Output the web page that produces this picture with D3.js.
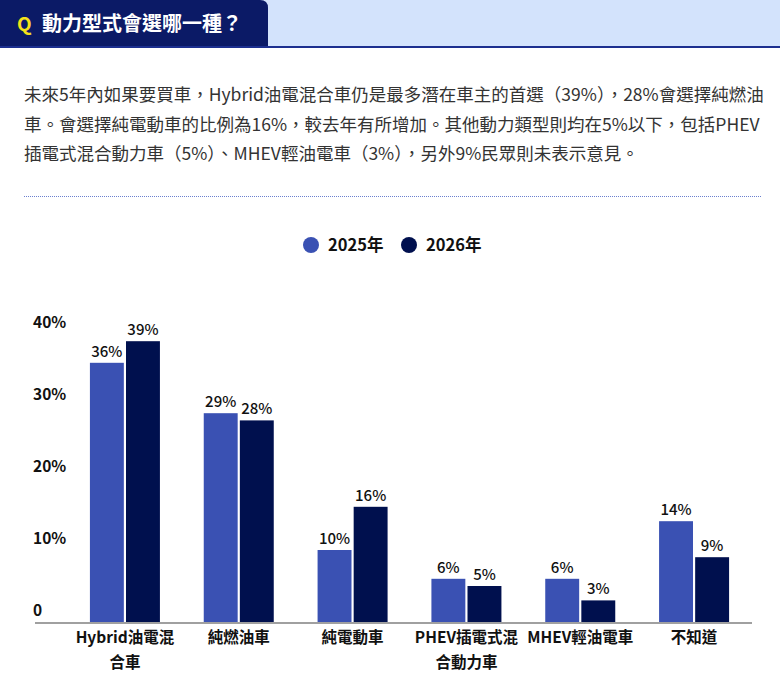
<!DOCTYPE html>
<html>
<head>
<meta charset="utf-8">
<script src="https://cdn.jsdelivr.net/npm/d3@7"></script>
<style>
  body { margin: 0; background: #fff; }
  svg { display: block; font-family: 'Noto Sans CJK TC', 'Noto Sans', sans-serif; }
</style>
</head>
<body>
<div id="chart"></div>
<script>
const title = '動力型式會選哪一種？';
const paragraphLines = [
  '未來5年內如果要買車，Hybrid油電混合車仍是最多潛在車主的首選（39%），28%會選擇純燃油',
  '車。會選擇純電動車的比例為16%，較去年有所增加。其他動力類型則均在5%以下，包括PHEV',
  '插電式混合動力車（5%）、MHEV輕油電車（3%），另外9%民眾則未表示意見。',
];
const categories = [
  ['Hybrid油電混', '合車'],
  ['純燃油車'],
  ['純電動車'],
  ['PHEV插電式混', '合動力車'],
  ['MHEV輕油電車'],
  ['不知道'],
];
const seriesNames = ['2025年', '2026年'];
const values2025 = [36, 29, 10, 6, 6, 14];
const values2026 = [39, 28, 16, 5, 3, 9];
const yTicks = [0, 10, 20, 30, 40];

const WIDTH = 780;
const HEIGHT = 699;
const colors = ['#3a51b3', '#00104e'];

const svg = d3.create('svg').attr('width', WIDTH).attr('height', HEIGHT);

// header
svg.append('rect').attr('width', WIDTH).attr('height', 47).attr('fill', '#d3e3fc');
svg
  .append('path')
  .attr('d', 'M0,0 H260 Q268,0 268,8 V47 H0 Z')
  .attr('fill', '#0b1a66');
svg
  .append('rect')
  .attr('y', 46)
  .attr('width', WIDTH)
  .attr('height', 2)
  .attr('fill', '#1c2f8f');
svg
  .append('text')
  .attr('x', 17)
  .attr('y', 31)
  .attr('fill', '#f5e21a')
  .attr('font-size', 19)
  .attr('font-weight', 700)
  .text('Q');
svg
  .append('text')
  .attr('x', 42)
  .attr('y', 31)
  .attr('fill', '#fff')
  .attr('font-size', 20)
  .attr('font-weight', 700)
  .text(title);

// paragraph
svg
  .append('g')
  .selectAll('text')
  .data(paragraphLines)
  .join('text')
  .attr('x', 24)
  .attr('y', (_, i) => 101 + i * 29.5)
  .attr('fill', '#333')
  .attr('font-size', 17.5)
  .text((d) => d);

svg
  .append('line')
  .attr('x1', 24)
  .attr('x2', 762)
  .attr('y1', 196.5)
  .attr('y2', 196.5)
  .attr('stroke', '#6b80cf')
  .attr('stroke-dasharray', '1,1');

// legend
const legend = svg
  .append('g')
  .selectAll('g')
  .data(seriesNames)
  .join('g')
  .attr('transform', (_, i) => `translate(${311 + i * 98}, 245)`);
legend.append('circle').attr('r', 8).attr('fill', (_, i) => colors[i]);
legend
  .append('text')
  .attr('x', 17)
  .attr('y', 6)
  .attr('font-size', 16.5)
  .attr('font-weight', 700)
  .attr('fill', '#111')
  .text((d) => d);

// scales
const x0 = d3
  .scaleBand()
  .domain(d3.range(categories.length))
  .range([68, 751])
  .paddingInner(0.385)
  .paddingOuter(0.1925);
const x1 = d3
  .scaleBand()
  .domain(seriesNames)
  .range([0, x0.bandwidth()])
  .paddingInner(0.06);
const y = d3.scaleLinear().domain([0, 40]).range([622, 334]);

// y axis labels (sitting above tick position, no grid)
const yAxis = d3
  .axisLeft(y)
  .tickValues(yTicks)
  .tickFormat((t) => (t === 0 ? '0' : `${t}%`))
  .tickSize(0);
const yG = svg
  .append('g')
  .attr('transform', 'translate(33,0)')
  .call(yAxis)
  .attr('font-family', null)
  .attr('font-size', null);
yG.select('.domain').remove();
yG
  .selectAll('text')
  .attr('x', 0)
  .attr('dy', -7)
  .attr('text-anchor', 'start')
  .attr('font-size', 15.5)
  .attr('font-weight', 700)
  .attr('fill', '#111');

// bars
const tableData = categories.map((c, i) => ({
  index: i,
  values: [values2025[i], values2026[i]],
}));
const groups = svg
  .append('g')
  .selectAll('g')
  .data(tableData)
  .join('g')
  .attr('transform', (d) => `translate(${x0(d.index)},0)`);
const cells = groups
  .selectAll('g')
  .data((d) => d.values.map((v, j) => ({ name: seriesNames[j], value: v, j })))
  .join('g');
cells
  .append('rect')
  .attr('x', (d) => x1(d.name))
  .attr('y', (d) => y(d.value))
  .attr('width', x1.bandwidth())
  .attr('height', (d) => y(0) - y(d.value))
  .attr('fill', (d) => colors[d.j]);
cells
  .append('text')
  .attr('x', (d) => x1(d.name) + x1.bandwidth() / 2)
  .attr('y', (d) => y(d.value) - 6)
  .attr('text-anchor', 'middle')
  .attr('font-size', 15)
  .attr('font-weight', 500)
  .attr('fill', '#111')
  .text((d) => `${d.value}%`);

// baseline
svg
  .append('line')
  .attr('x1', 35)
  .attr('x2', 752)
  .attr('y1', y(0) + 1)
  .attr('y2', y(0) + 1)
  .attr('stroke', '#a0a0a0')
  .attr('stroke-width', 2);

// x labels
const xAxis = d3
  .axisBottom(x0)
  .tickSize(0)
  .tickFormat(() => '');
const xG = svg
  .append('g')
  .attr('transform', `translate(0,${y(0)})`)
  .call(xAxis)
  .attr('font-family', null)
  .attr('font-size', null);
xG.select('.domain').remove();
xG
  .selectAll('.tick text')
  .attr('y', 0)
  .attr('dy', null)
  .attr('font-size', 15.5)
  .attr('font-weight', 700)
  .attr('fill', '#111')
  .selectAll('tspan')
  .data((i) => categories[i])
  .join('tspan')
  .attr('x', 0)
  .attr('y', (_, k) => 21 + k * 25)
  .text((d) => d);

document.getElementById('chart').appendChild(svg.node());
</script>
</body>
</html>
